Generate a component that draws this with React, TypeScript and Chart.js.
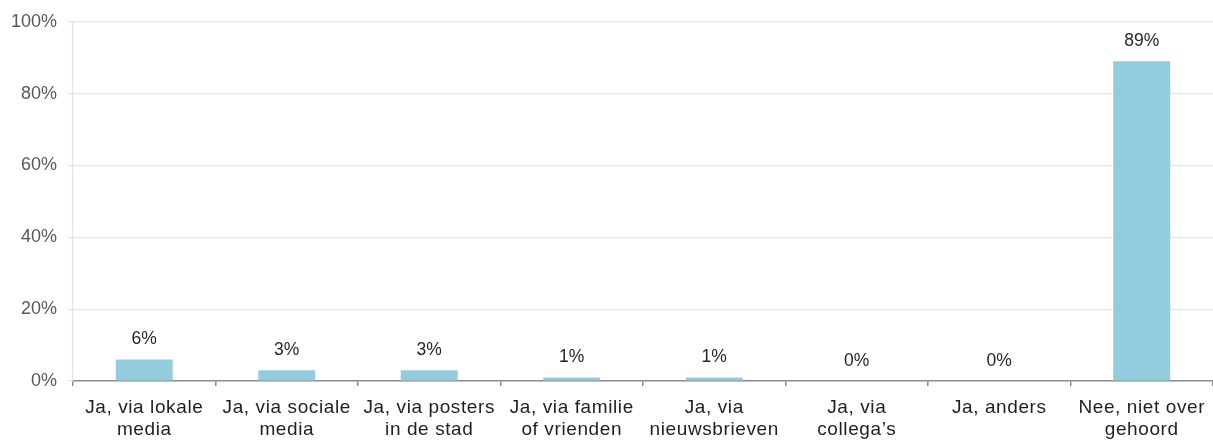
import React, { useEffect, useRef } from "react";
import { Chart, registerables } from "chart.js";

Chart.register(...registerables);

const categories: string[][] = [
  ["Ja, via lokale", "media"],
  ["Ja, via sociale", "media"],
  ["Ja, via posters", "in de stad"],
  ["Ja, via familie", "of vrienden"],
  ["Ja, via", "nieuwsbrieven"],
  ["Ja, via", "collega\u2019s"],
  ["Ja, anders"],
  ["Nee, niet over", "gehoord"],
];
const values: number[] = [6, 3, 3, 1, 1, 0, 0, 89];
const valueLabels: string[] = ["6%", "3%", "3%", "1%", "1%", "0%", "0%", "89%"];

const FONT = "Liberation Sans, Arial, sans-serif";

const spacingPlugin = {
  id: "xLabelSpacing",
  beforeDraw(chart: any) {
    chart.ctx.letterSpacing = "0.6px";
  },
  beforeDatasetsDraw(chart: any) {
    chart.ctx.letterSpacing = "0px";
  },
};

const labelPlugin = {
  id: "valueLabels",
  afterDatasetsDraw(chart: any) {
    const ctx = chart.ctx;
    const meta = chart.getDatasetMeta(0);
    ctx.save();
    ctx.letterSpacing = "0px";
    ctx.font = `17.5px ${FONT}`;
    ctx.fillStyle = "#262626";
    ctx.textAlign = "center";
    ctx.textBaseline = "middle";
    meta.data.forEach((bar: any, i: number) => {
      ctx.fillText(valueLabels[i], bar.x, bar.y - 20);
    });
    ctx.restore();
  },
};

export default function App() {
  const ref = useRef<HTMLCanvasElement>(null);
  useEffect(() => {
    if (!ref.current) return;
    const chart = new Chart(ref.current, {
      type: "bar",
      data: {
        labels: categories as any,
        datasets: [
          {
            data: values,
            backgroundColor: "#93CDDD",
            barPercentage: 0.4,
            categoryPercentage: 1,
          },
        ],
      },
      options: {
        animation: false,
        responsive: false,
        maintainAspectRatio: false,
        layout: { padding: { top: 21, left: 0, right: 0, bottom: 0 } },
        plugins: { legend: { display: false }, tooltip: { enabled: false } },
        scales: {
          x: {
            grid: {
              offset: true,
              drawOnChartArea: false,
              drawTicks: true,
              tickLength: 5,
              color: "#8c8c8c",
              lineWidth: 1.5,
            },
            border: { color: "#8c8c8c", width: 1.5 },
            ticks: {
              color: "#1f1f1f",
              font: { family: FONT, size: 19, lineHeight: 1.15 },
              padding: 11,
              maxRotation: 0,
              autoSkip: false,
            },
            afterFit: (s: any) => {
              s.height = 63;
            },
          },
          y: {
            min: 0,
            max: 100,
            grid: {
              color: "#dce6f2",
              lineWidth: 1.2,
              tickLength: 5,
              drawTicks: true,
            },
            border: { color: "#dce6f2", width: 1.2 },
            ticks: {
              z: 1,
              stepSize: 20,
              color: "#595959",
              font: { family: FONT, size: 18 },
              padding: 11,
              callback: (v: any) => `${v}%`,
            },
            afterFit: (s: any) => {
              s.width = 73;
            },
          },
        },
      },
      plugins: [spacingPlugin, labelPlugin],
    });
    return () => chart.destroy();
  }, []);
  return (
    <div style={{ position: "absolute", left: 0, top: 0, width: 1213, height: 444, background: "#fff" }}>
      <canvas ref={ref} width={1213} height={444} style={{ width: 1213, height: 444 }} />
    </div>
  );
}
